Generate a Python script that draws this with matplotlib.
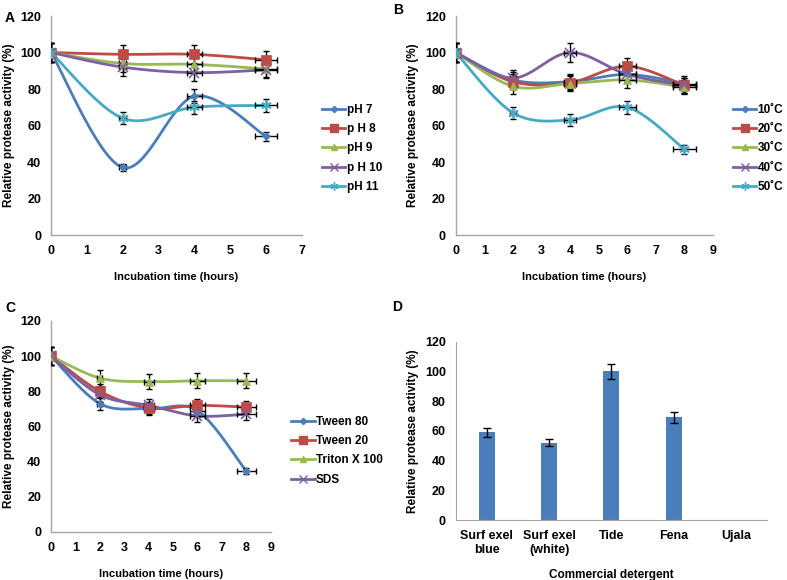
import numpy as np
import matplotlib
matplotlib.use('Agg')
import matplotlib.pyplot as plt
from matplotlib.lines import Line2D

plt.rcParams['font.family'] = ['Liberation Sans', 'DejaVu Sans']
plt.rcParams['font.weight'] = 'bold'
plt.rcParams['font.size'] = 8

# ---- data ----
# A: pH
time_a = [0, 2, 4, 6]
xerr_a = [0, 0.1, 0.2, 0.3]
ph_names = ['pH 7', 'p H 8', 'pH 9', 'p H 10', 'pH 11']
ph7 = [100, 37, 76, 54]
ph8 = [100, 99, 99, 96]
ph9 = [100, 94, 93.5, 91]
ph10 = [100, 92, 89, 90.5]
ph11 = [100, 64, 70, 71]
ph7_err = [5, 1.8, 3.8, 2.7]
ph8_err = [5, 5, 5, 4.8]
ph9_err = [5, 4.7, 4.7, 4.5]
ph10_err = [5, 4.6, 4.5, 4.5]
ph11_err = [5, 3.2, 3.5, 3.5]

# B: temperature
time_b = [0, 2, 4, 6, 8]
xerr_b = [0, 0.1, 0.2, 0.3, 0.4]
temp_names = ['10\u02daC', '20\u02daC', '30\u02daC', '40\u02daC', '50\u02daC']
t10 = [100, 85, 84, 88, 83]
t20 = [100, 84, 83.5, 92.5, 82]
t30 = [100, 81.5, 83, 85, 81]
t40 = [100, 86, 100, 88, 82]
t50 = [100, 67, 63, 70, 47]
t10_err = [5, 4.2, 4.2, 4.4, 4.2]
t20_err = [5, 4.2, 4.2, 4.6, 4.1]
t30_err = [5, 4.1, 4.2, 4.3, 4]
t40_err = [5, 4.3, 5, 4.4, 4.1]
t50_err = [5, 3.4, 3.2, 3.5, 2.4]

# C: surfactants
time_c = [0, 2, 4, 6, 8]
xerr_c = [0, 0.1, 0.2, 0.3, 0.4]
surf_names = ['Tween 80', 'Tween 20', 'Triton X 100', 'SDS']
tw80 = [100, 73, 70, 69, 34.5]
tw20 = [100, 80, 70.5, 72, 71]
triton = [100, 87.5, 85.5, 86, 86]
sds = [100, 78, 72, 66, 67]
tw80_err = [5, 3.7, 3.5, 3.5, 1.7]
tw20_err = [5, 4, 3.5, 3.6, 3.5]
triton_err = [5, 4.4, 4.3, 4.3, 4.3]
sds_err = [5, 3.9, 3.6, 3.3, 3.4]

# D: commercial detergents
detergents = ['Surf exel\nblue', 'Surf exel\n(white)', 'Tide', 'Fena', 'Ujala']
det_act = [59, 52, 100, 69, 0]
det_err = [3, 2.5, 5, 3.5, 0]

colors = ['#4A7EBB', '#BE4B48', '#98B954', '#7D60A0', '#46AAC5']
markers = ['D', 's', '^', 'x', (6, 2, 0)]
msizes = [4, 6.5, 6, 6.5, 7.5]


def smooth(ax, x, y, n=40):
    # excel-like smoothed line (Catmull-Rom / Bezier) in axes pixel space
    x0, x1 = ax.get_xlim()
    y0, y1 = ax.get_ylim()
    sx = (np.asarray(x, float) - x0) / (x1 - x0) * 3
    sy = (np.asarray(y, float) - y0) / (y1 - y0) * 3.6
    p = np.column_stack([sx, sy])
    out = []
    for i in range(len(p) - 1):
        pm = p[i - 1] if i > 0 else p[i]
        pp = p[i + 2] if i + 2 < len(p) else p[i + 1]
        c1 = p[i] + (p[i + 1] - pm) / 6
        c2 = p[i + 1] - (pp - p[i]) / 6
        t = np.linspace(0, 1, n)[:, None]
        seg = ((1 - t) ** 3 * p[i] + 3 * (1 - t) ** 2 * t * c1
               + 3 * (1 - t) * t ** 2 * c2 + t ** 3 * p[i + 1])
        out.append(seg if i == 0 else seg[1:])
    out = np.vstack(out)
    return out[:, 0] / 3 * (x1 - x0) + x0, out[:, 1] / 3.6 * (y1 - y0) + y0


def style_axes(ax, xmax):
    ax.set_xlim(0, xmax)
    ax.set_ylim(0, 120)
    ax.set_xticks(range(0, xmax + 1))
    ax.set_yticks(range(0, 121, 20))
    for s in ['top', 'right']:
        ax.spines[s].set_visible(False)
    for s in ['left', 'bottom']:
        ax.spines[s].set_color('#A6A6A6')
        ax.spines[s].set_linewidth(1)
    ax.tick_params(length=0, pad=7, labelsize=9)
    ax.set_ylabel('Relative protease activity (%)', fontsize=8.5, fontweight='bold')
    ax.set_xlabel('Incubation time (hours)', fontsize=8, fontweight='bold', labelpad=11)


def line_panel(ax, x, xerr, series, errs, names, xmax, leg_pos):
    style_axes(ax, xmax)
    handles = []
    for i, (y, e) in enumerate(zip(series, errs)):
        sx, sy = smooth(ax, x, y)
        ax.plot(sx, sy, color=colors[i], lw=2, zorder=2)
        ax.errorbar(x, y, yerr=e, xerr=xerr, fmt='none', ecolor='black',
                    elinewidth=1, capsize=2.5, capthick=1, zorder=3)
        ax.plot(x, y, ls='none', marker=markers[i], ms=msizes[i], color=colors[i],
                mec=colors[i], mew=1.2 if markers[i] in ('x', (6, 2, 0)) else 0.5, zorder=4)
        handles.append(Line2D([], [], color=colors[i], lw=2, marker=markers[i],
                              ms=msizes[i] * 0.8, mec=colors[i], mew=1))
    fig.legend(handles, names, loc='upper left', bbox_to_anchor=leg_pos,
               frameon=False, handlelength=2.0, handletextpad=0.1, borderpad=0,
               borderaxespad=0, labelspacing=0.62, prop={'weight': 'bold', 'size': 8.5})


fig = plt.figure(figsize=(7.87, 5.8), dpi=100)

ax_a = fig.add_axes([0.0648, 0.5948, 0.3189, 0.3776])
line_panel(ax_a, time_a, xerr_a, [ph7, ph8, ph9, ph10, ph11],
           [ph7_err, ph8_err, ph9_err, ph10_err, ph11_err], ph_names, 7, (0.409, 0.821))

ax_b = fig.add_axes([0.579, 0.5948, 0.327, 0.3776])
line_panel(ax_b, time_b, xerr_b, [t10, t20, t30, t40, t50],
           [t10_err, t20_err, t30_err, t40_err, t50_err], temp_names, 9, (0.931, 0.821))

ax_c = fig.add_axes([0.0648, 0.0828, 0.2792, 0.3638])
line_panel(ax_c, time_c, xerr_c, [tw80, tw20, triton, sds],
           [tw80_err, tw20_err, triton_err, sds_err], surf_names, 9, (0.370, 0.283))

ax_d = fig.add_axes([0.579, 0.1034, 0.3956, 0.3075])
pos = np.arange(len(detergents))
ax_d.bar(pos, det_act, width=0.26, color='#4A7EBB', zorder=2)
ax_d.errorbar(pos[:4], det_act[:4], yerr=det_err[:4], fmt='none', ecolor='black',
              elinewidth=1, capsize=3, capthick=1, zorder=3)
ax_d.set_xlim(-0.5, len(detergents) - 0.5)
ax_d.set_ylim(0, 120)
ax_d.set_yticks(range(0, 121, 20))
ax_d.set_xticks(pos)
ax_d.set_xticklabels(detergents, fontsize=8.5, fontweight='bold')
for s in ['top', 'right']:
    ax_d.spines[s].set_visible(False)
for s in ['left', 'bottom']:
    ax_d.spines[s].set_color('#A6A6A6')
ax_d.tick_params(length=0, pad=7, labelsize=9)
ax_d.set_ylabel('Relative protease activity (%)', fontsize=8.5, fontweight='bold')
ax_d.set_xlabel('Commercial detergent', fontsize=8.5, fontweight='bold', labelpad=10)

for lab, (px, py) in zip('ABCD', [(5, 18), (393, 10), (5, 308), (392, 307)]):
    fig.text(px / 787, 1 - py / 580, lab, fontsize=10, fontweight='bold',
             ha='left', va='center')

fig.savefig('out.png', dpi=100)
